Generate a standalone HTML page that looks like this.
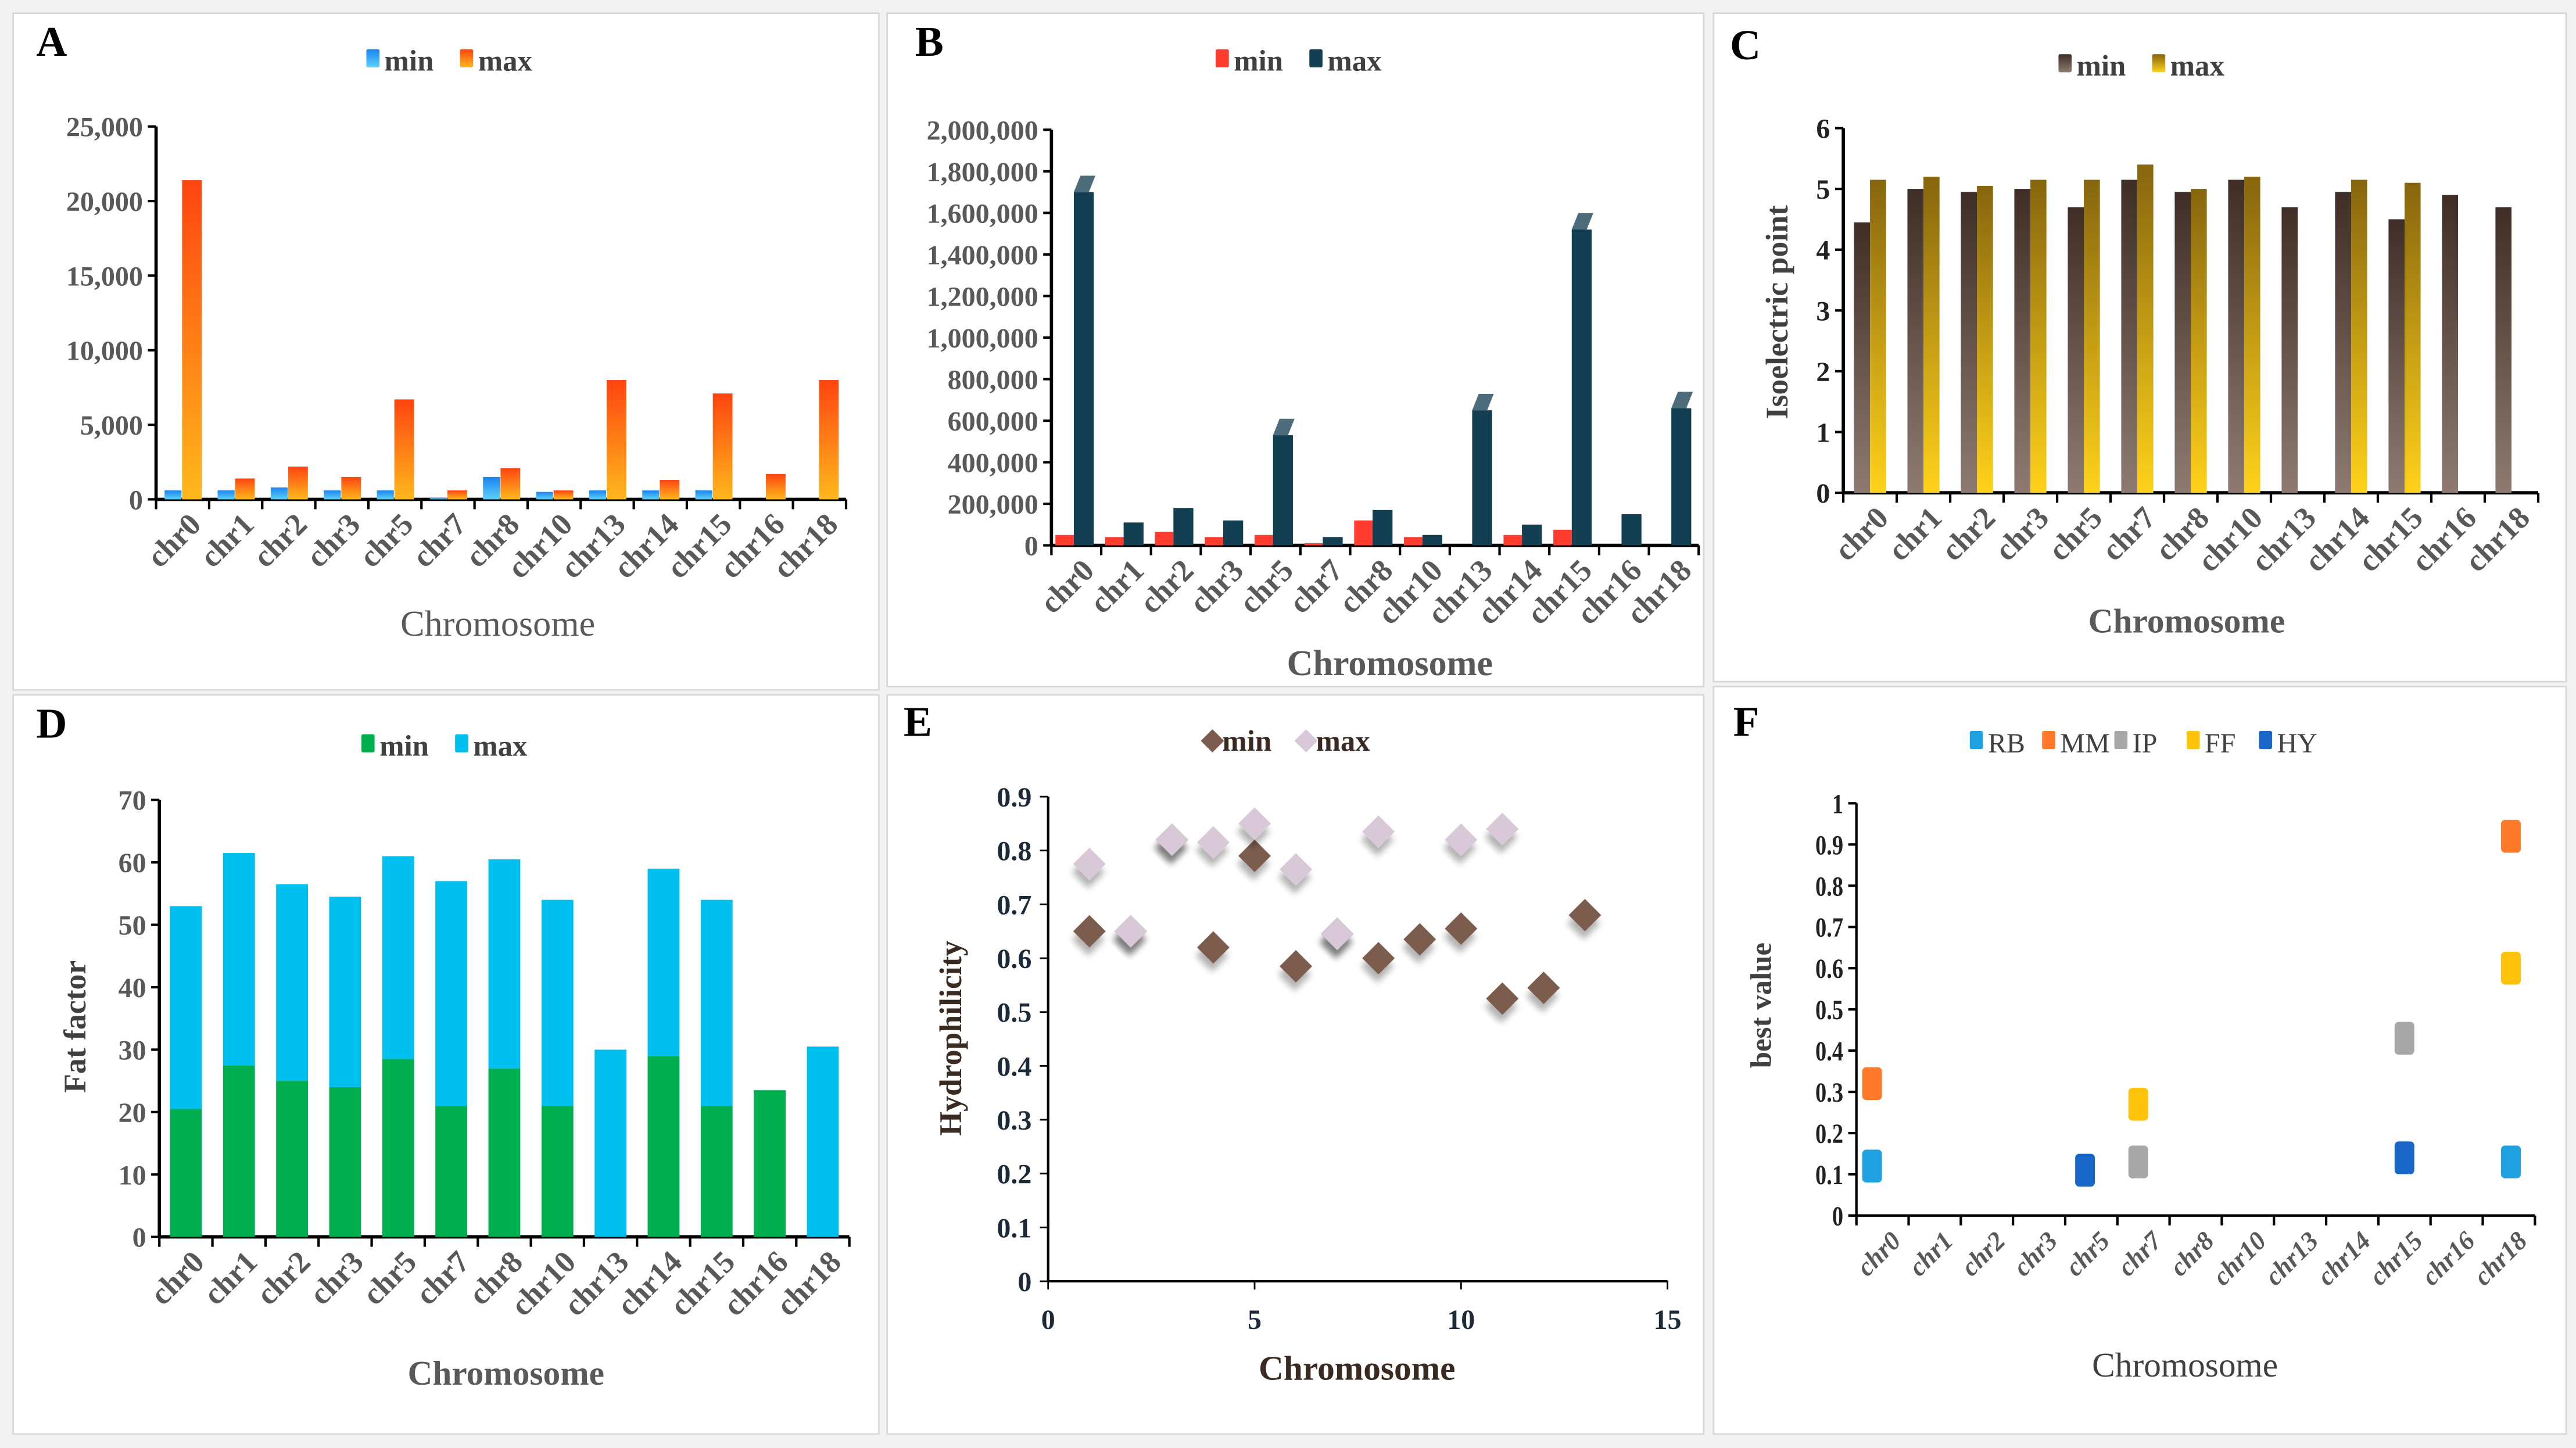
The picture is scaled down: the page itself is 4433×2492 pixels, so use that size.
<!DOCTYPE html>
<html><head><meta charset="utf-8"><style>
html,body{margin:0;padding:0;background:#fff;}
svg{display:block;}
svg text{font-family:"Liberation Serif","DejaVu Serif",serif;}
</style></head><body>
<svg id="fig" xmlns="http://www.w3.org/2000/svg" width="4433" height="2492" viewBox="0 0 1568 881.5" preserveAspectRatio="none" font-family="Liberation Serif, serif">
<defs>
<linearGradient id="gAmin" x1="0" y1="0" x2="0" y2="1"><stop offset="0" stop-color="#1a84f0"/><stop offset="1" stop-color="#5cd0f8"/></linearGradient>
<linearGradient id="gAmax" x1="0" y1="0" x2="0" y2="1"><stop offset="0" stop-color="#ff4410"/><stop offset="1" stop-color="#ffb81c"/></linearGradient>
<linearGradient id="gCmin" x1="0" y1="0" x2="0" y2="1"><stop offset="0" stop-color="#3e2e26"/><stop offset="1" stop-color="#8e7a70"/></linearGradient>
<linearGradient id="gCmax" x1="0" y1="0" x2="0" y2="1"><stop offset="0" stop-color="#86650e"/><stop offset="1" stop-color="#ffd21a"/></linearGradient>
<filter id="sh" x="-50%" y="-50%" width="200%" height="200%"><feDropShadow dx="3" dy="4" stdDeviation="2" flood-color="#000" flood-opacity="0.3"/></filter>
</defs>
<rect x="0" y="0" width="1568" height="881.5" fill="#f2f2f2"/>
<rect x="8" y="8" width="527" height="412" fill="#fff" stroke="#d9d9d9"/>
<rect x="540" y="8" width="497" height="410" fill="#fff" stroke="#d9d9d9"/>
<rect x="1043" y="8" width="519" height="407" fill="#fff" stroke="#d9d9d9"/>
<rect x="8" y="423" width="527" height="450" fill="#fff" stroke="#d9d9d9"/>
<rect x="540" y="423" width="497" height="450" fill="#fff" stroke="#d9d9d9"/>
<rect x="1043" y="418" width="519" height="455" fill="#fff" stroke="#d9d9d9"/>
<g id="root"></g>
</svg>
<script>
const categories = ["chr0","chr1","chr2","chr3","chr5","chr7","chr8","chr10","chr13","chr14","chr15","chr16","chr18"];
const aMin = [600,600,800,600,600,100,1500,500,600,600,600,0,0];
const aMax = [21400,1400,2200,1500,6700,600,2100,600,8000,1300,7100,1700,8000];
const aTicks = ["0","5,000","10,000","15,000","20,000","25,000"];
const bMin = [50000,40000,65000,40000,50000,10000,120000,40000,0,50000,75000,0,0];
const bMax = [1700000,110000,180000,120000,530000,40000,170000,50000,650000,100000,1520000,150000,660000];
const bTicks = ["0","200,000","400,000","600,000","800,000","1,000,000","1,200,000","1,400,000","1,600,000","1,800,000","2,000,000"];
const cMin = [4.45,5.0,4.95,5.0,4.7,5.15,4.95,5.15,4.7,4.95,4.5,4.9,4.7];
const cMax = [5.15,5.2,5.05,5.15,5.15,5.4,5.0,5.2,0,5.15,5.1,0,0];
const cTicks = ["0","1","2","3","4","5","6"];
const dMin = [20.5,27.5,25,24,28.5,21,27,21,0,29,21,23.5,0];
const dMax = [32.5,34,31.5,30.5,32.5,36,33.5,33,30,30,33,0,30.5];
const dTicks = ["0","10","20","30","40","50","60","70"];
const eX = [1,2,3,4,5,6,7,8,9,10,11,12,13];
const eMin = [0.65,0.65,0.82,0.62,0.79,0.585,0.645,0.60,0.635,0.655,0.525,0.545,0.68];
const eMax = [0.775,0.65,0.82,0.815,0.85,0.765,0.645,0.835,null,0.82,0.84,null,null];
const eYTicks = ["0","0.1","0.2","0.3","0.4","0.5","0.6","0.7","0.8","0.9"];
const eXTicks = ["0","5","10","15"];
const fSeries = ["RB","MM","IP","FF","HY"];
const fColors = ["#1fa0e0","#ff7a2a","#a8a8a8","#ffc20a","#1866c8"];
const fRB = [0.12,null,null,null,null,null,null,null,null,null,null,null,0.13];
const fMM = [0.32,null,null,null,null,null,null,null,null,null,null,null,0.92];
const fIP = [null,null,null,null,null,0.13,null,null,null,null,0.43,null,null];
const fFF = [null,null,null,null,null,0.27,null,null,null,null,null,null,0.60];
const fHY = [null,null,null,null,0.11,null,null,null,null,null,0.14,null,null];
const fTicks = ["0","0.1","0.2","0.3","0.4","0.5","0.6","0.7","0.8","0.9","1"];

const NS="http://www.w3.org/2000/svg";
const root=document.getElementById('root');
function el(tag,attrs,txt){const e=document.createElementNS(NS,tag);for(const k in attrs)e.setAttribute(k,attrs[k]);if(tag==='text')e.setAttribute('font-family','Liberation Serif, serif');if(txt!==undefined)e.textContent=txt;root.appendChild(e);return e;}
function lin(d0,d1,r0,r1){return v=>r0+(v-d0)/(d1-d0)*(r1-r0);}

function axesCat(x0,x1,y0,yTop,ticks,maxV,opt){
  const y=lin(0,maxV,y0,yTop);
  let e=el('line',{x1:x0,y1:y0,x2:x0,y2:yTop,stroke:'#000','stroke-width':opt.lw||2});
  
  e=el('line',{x1:x0,y1:y0,x2:x1,y2:y0,stroke:'#000','stroke-width':opt.lw||2});
  
  ticks.forEach((t,i)=>{const v=i*maxV/(ticks.length-1);const yy=y(v);
    el('line',{x1:x0-5,y1:yy,x2:x0,y2:yy,stroke:'#000','stroke-width':1.5});
    e=el('text',{x:x0-8,y:yy+6,'text-anchor':'end','font-size':opt.tfs||17,'font-weight':'bold',fill:opt.tc||'#595959',transform:opt.narrow?`translate(${x0-8},0) scale(0.8,1) translate(${-(x0-8)},0)`:''},t);
    });
  const w=(x1-x0)/categories.length;
  for(let i=0;i<=categories.length;i++)el('line',{x1:x0+i*w,y1:y0,x2:x0+i*w,y2:y0+6,stroke:'#000','stroke-width':1.5});
  categories.forEach((c,i)=>{const cx=x0+(i+0.68)*w, cy=y0+10;
    e=el('text',{x:cx,y:cy+9,'text-anchor':'end','font-size':opt.cfs||19,'font-weight':'bold','font-style':opt.italic?'italic':'normal',fill:'#595959',transform:`rotate(-45 ${cx} ${cy})`},c);
    });
  return {y,w};
}
function letter(x,y,t){const e=el('text',{x:x,y:y,'font-size':26,'font-weight':'bold',fill:'#000'},t);}
function legend(x,y,items,opt){let cx=x;items.forEach(it=>{
  let m;
  if(opt&&opt.diamond){m=el('rect',{x:cx-5,y:y-5,width:10,height:10,fill:it.c,transform:`rotate(45 ${cx} ${y})`});}
  else m=el('rect',{x:cx-5,y:y-7,width:8,height:11,fill:it.c,rx:1});
  
  const t=el('text',{x:cx+6,y:y+6,'font-size':opt&&opt.fs||18,'font-weight':opt&&opt.normal?'normal':'bold',fill:opt&&opt.tc||'#404040'},it.t);
  
  cx+=it.t.length*(opt&&opt.step||11)+24;});}
function title(x,y,t,bold,fs,rot,col){const e=el('text',{x:x,y:y,'text-anchor':'middle','font-size':fs||20,'font-weight':bold?'bold':'normal',fill:col||'#595959',transform:rot?`rotate(-90 ${x} ${y})`:''},t);return e;}

// Panel A
(function(){letter(22,34,'A');legend(228,37,[{t:'min',c:'url(#gAmin)'},{t:'max',c:'url(#gAmax)'}]);
 const x0=95,ax=axesCat(x0,515,304,77,aTicks,25000,{});
 categories.forEach((c,i)=>{const L=x0+i*ax.w;
  let r=el('rect',{x:L+0.16*ax.w,y:ax.y(aMin[i]),width:0.32*ax.w,height:304-ax.y(aMin[i]),fill:'url(#gAmin)'});
  r=el('rect',{x:L+0.49*ax.w,y:ax.y(aMax[i]),width:0.37*ax.w,height:304-ax.y(aMax[i]),fill:'url(#gAmax)'});});
 const t=title(303,387,'Chromosome',false,22);})();

// Panel B
(function(){letter(557,34,'B');legend(745,37,[{t:'min',c:'#ff3b30'},{t:'max',c:'#123f52'}]);
 const x0=640,ax=axesCat(x0,1034,332,79,bTicks,2000000,{tc:'#595959',tfs:17});
 categories.forEach((c,i)=>{const L=x0+i*ax.w;
  let r=el('rect',{x:L+0.08*ax.w,y:ax.y(bMin[i]),width:0.37*ax.w,height:332-ax.y(bMin[i]),fill:'#ff3b30'});
  const bx=L+0.45*ax.w,bw=0.4*ax.w,by=ax.y(bMax[i]);
  r=el('rect',{x:bx,y:by,width:bw,height:332-by,fill:'#123f52'});
  if(bMax[i]>300000){const p=el('polygon',{points:`${bx},${by} ${bx+4},${by-10} ${bx+bw+1},${by-10} ${bx+bw-3},${by}`,fill:'#4d6c7b'});}});
 const t=title(846,411,'Chromosome',true,22);})();

// Panel C
(function(){letter(1053,36,'C');legend(1258,40,[{t:'min',c:'url(#gCmin)'},{t:'max',c:'url(#gCmax)'}]);
 const x0=1122,ax=axesCat(x0,1545,300,78,cTicks,6,{tc:'#222',tfs:17});
 categories.forEach((c,i)=>{const L=x0+i*ax.w;
  let r=el('rect',{x:L+0.2*ax.w,y:ax.y(cMin[i]),width:0.3*ax.w,height:300-ax.y(cMin[i]),fill:'url(#gCmin)'});
  r=el('rect',{x:L+0.5*ax.w,y:ax.y(cMax[i]),width:0.3*ax.w,height:300-ax.y(cMax[i]),fill:'url(#gCmax)'});});
 let t=title(1331,385,'Chromosome',true,21);
 t=title(1088,190,'Isoelectric point',true,19,true,'#404040');})();

// Panel D
(function(){letter(22,449,'D');legend(225,454,[{t:'min',c:'#00b050'},{t:'max',c:'#00c0f0'}]);
 const x0=97,ax=axesCat(x0,517,753,487,dTicks,70,{tc:'#595959',tfs:17});
 categories.forEach((c,i)=>{const L=x0+i*ax.w;const ym=ax.y(dMin[i]),yt=ax.y(dMin[i]+dMax[i]);
  let r=el('rect',{x:L+0.2*ax.w,y:ym,width:0.6*ax.w,height:753-ym,fill:'#00b050'});
  r=el('rect',{x:L+0.2*ax.w,y:yt,width:0.6*ax.w,height:ym-yt,fill:'#00c0f0'});});
 let t=title(308,843,'Chromosome',true,21);
 t=title(52,625,'Fat factor',true,19,true,'#404040');})();

// Panel E
(function(){letter(550,448,'E');legend(738,451,[{t:'min',c:'#7b5c4e'},{t:'max',c:'#d8c8d8'}],{diamond:true,tc:'#3a2a22',step:11});
 const x0=638,x1=1015,y0=780,yT=485;const X=lin(0,15,x0,x1),Y=lin(0,0.9,y0,yT);
 let e=el('line',{x1:x0,y1:y0,x2:x0,y2:yT,stroke:'#000','stroke-width':1.5});
 e=el('line',{x1:x0,y1:y0,x2:x1,y2:y0,stroke:'#000','stroke-width':1.5});
 eYTicks.forEach((t,i)=>{const yy=Y(i*0.1);el('line',{x1:x0-5,y1:yy,x2:x0,y2:yy,stroke:'#000'});
  const tt=el('text',{x:x0-10,y:yy+6,'text-anchor':'end','font-size':17,'font-weight':'bold',fill:'#1c2a3a'},t);});
 eXTicks.forEach((t,i)=>{const xx=X(i*5);el('line',{x1:xx,y1:y0,x2:xx,y2:y0+5,stroke:'#000'});
  const tt=el('text',{x:xx,y:y0+29,'text-anchor':'middle','font-size':17,'font-weight':'bold',fill:'#1c2a3a'},t);});
 function dia(x,y,c,n){const p=el('rect',{x:x-7,y:y-7,width:14,height:14,fill:c,filter:'url(#sh)',transform:`rotate(45 ${x} ${y})`});}
 eX.forEach((x,i)=>{if(eMin[i]!=null)dia(X(x),Y(eMin[i]),'#7b5c4e','point-min');});
 eX.forEach((x,i)=>{if(eMax[i]!=null)dia(X(x),Y(eMax[i]),'#d8c8d8','point-max');});
 let t=title(826,840,'Chromosome',true,21,false,'#3a2a22');
 t=title(585,632,'Hydrophilicity',true,19,true,'#3a2a22');})();

// Panel F
(function(){letter(1055,448,'F');
 legend(1204,452,fSeries.map((s,i)=>({t:s,c:fColors[i]})),{normal:true,fs:17,step:10,tc:'#404040'});
 const x0=1130,ax=axesCat(x0,1543,740,489,fTicks,1,{tc:'#222',tfs:17,narrow:true,italic:true,cfs:16,lw:1.5});
 const all=[fRB,fMM,fIP,fFF,fHY];
 all.forEach((arr,s)=>arr.forEach((v,i)=>{if(v==null)return;const cx=x0+(i+0.3+0.02*i)*ax.w;
  const r=el('rect',{x:cx-6,y:ax.y(v)-10,width:12,height:20,rx:2.5,fill:fColors[s]});}));
 let t=title(1330,838,'Chromosome',false,21,false,'#404040');
 t=title(1078,612,'best value',true,18,true,'#404040');})();
</script>
</body></html>
